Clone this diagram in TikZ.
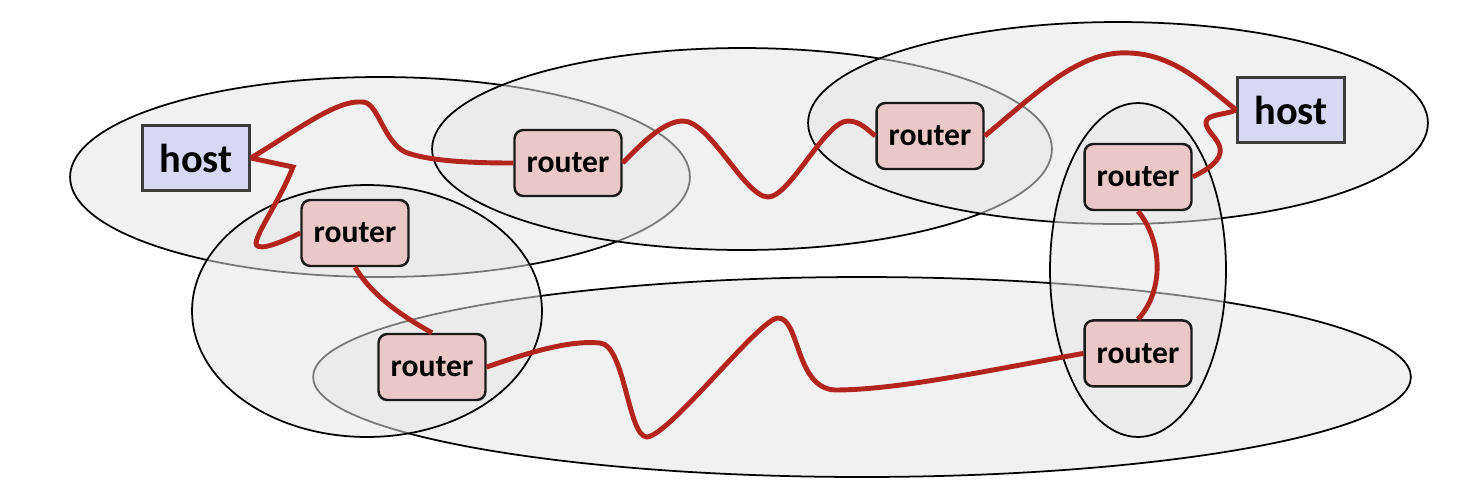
\documentclass[tikz,border=0pt]{standalone}
\usepackage{fontspec}
\setsansfont{Carlito}
\usepackage{tikz}
\usetikzlibrary{positioning}
\definecolor{NetRed}{HTML}{B3241C}
\definecolor{NetPink}{HTML}{EBC8C8}
\definecolor{NetLilac}{HTML}{D8D8F2}
\definecolor{NetEdge}{HTML}{1A1A1A}

\begin{document}
\begin{tikzpicture}[
  x=0.02cm,y=-0.02cm,
  zone/.style={draw=black,line width=1pt,fill=black!10,fill opacity=0.52},
  router/.style={draw=NetEdge,fill=NetPink,rounded corners=5pt,line width=1.4pt,minimum width=2.14cm,minimum height=1.32cm,inner sep=0pt,font=\sffamily\bfseries\fontsize{18}{21}\selectfont},
  host/.style={draw=NetEdge!85,fill=NetLilac,line width=1.4pt,minimum width=2.14cm,minimum height=1.3cm,inner sep=0pt,font=\sffamily\bfseries\fontsize{23}{27}\selectfont},
  link/.style={NetRed,line width=2.8pt},
]
\useasboundingbox (0,0) rectangle (1474,498);

% networks
\draw[zone] (380,177) ellipse [x radius=6.2cm, y radius=2cm];
\draw[zone] (742,149) ellipse [x radius=6.2cm, y radius=2.02cm];
\draw[zone] (1118,123) ellipse [x radius=6.2cm, y radius=2.02cm];
\draw[zone] (862,377) ellipse [x radius=10.98cm, y radius=2cm];
\draw[zone] (367,311) ellipse [x radius=3.5cm, y radius=2.52cm];
\draw[zone] (1138,270) ellipse [x radius=1.76cm, y radius=3.34cm];

% hosts and routers
\node[host] (h1) at (196,158) {host};
\node[host] (h2) at (1291,110) {host};
\node[router] (r1) at (568,163) {router};
\node[router] (r2) at (930,136) {router};
\node[router] (r3) at (355,233) {router};
\node[router] (r4) at (432,367) {router};
\node[router] (r5) at (1138,177) {router};
\node[router,below=2.16cm of r5] (r6) {router};

% links
\draw[link] (h1.east) .. controls (290,135) and (335,100) .. (361,102)
  .. controls (378,100) and (382,140) .. (405,152)
  .. controls (430,162) and (480,163) .. (r1.west);
\draw[link] (h1.east) -- (293,167) .. controls (280,200) and (258,230) .. (256,243)
  .. controls (256,250) and (270,248) .. (r3.west);
\draw[link] (r3.south) .. controls (372,295) and (400,315) .. (r4.north);
\draw[link] (r1.east) .. controls (645,140) and (665,121) .. (683,121)
  .. controls (710,121) and (745,197) .. (768,197)
  .. controls (790,197) and (825,121) .. (848,121)
  .. controls (860,121) and (868,130) .. (r2.west);
\draw[link] (r2.east) .. controls (1040,90) and (1080,50) .. (1130,53)
  .. controls (1175,55) and (1205,85) .. (h2.west);
\draw[link] (r5.east) .. controls (1210,168) and (1222,160) .. (1220,148)
  .. controls (1218,138) and (1205,130) .. (1206,122)
  .. controls (1207,114) and (1225,115) .. (h2.west);
\draw[link] (r5.south) .. controls (1162,240) and (1165,290) .. (r6.north);
\draw[link] (r4.east) .. controls (530,352) and (570,340) .. (600,343)
  .. controls (625,345) and (628,437) .. (647,437)
  .. controls (670,435) and (760,318) .. (778,318)
  .. controls (800,318) and (795,388) .. (835,390)
  .. controls (900,390) and (1000,368) .. (r6.west);
\end{tikzpicture}
\end{document}
